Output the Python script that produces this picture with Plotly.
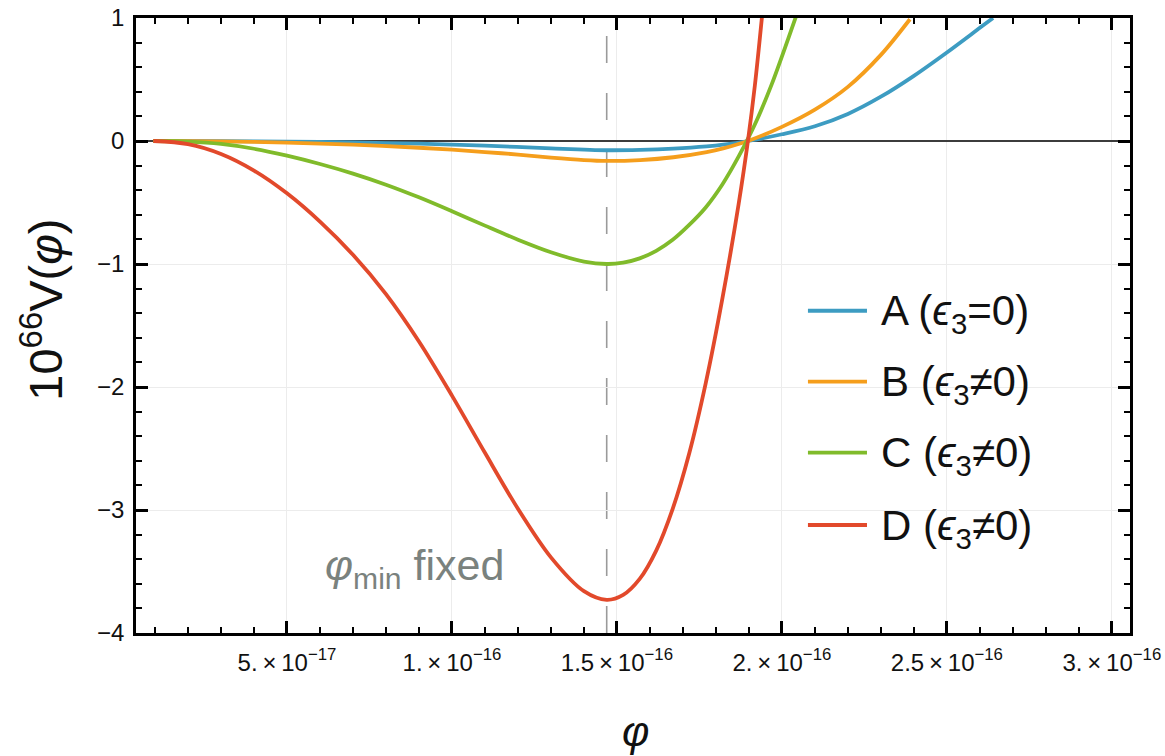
import plotly.graph_objects as go

# field values in units of 1e-16, potential values scaled by 1e66
PHI_UNIT = 1e-16

phi_A = [0.095, 0.3, 0.5, 0.7, 0.9, 1.1, 1.3, 1.469, 1.57, 1.671, 1.772, 1.822, 1.897,
         2.0, 2.1, 2.2, 2.3, 2.4, 2.5, 2.6, 2.64]
V_A = [0, -0.001, -0.005, -0.012, -0.022, -0.038, -0.06, -0.075, -0.072, -0.062, -0.044,
       -0.03, 0, 0.055, 0.12, 0.22, 0.36, 0.53, 0.72, 0.92, 1.0]

phi_B = [0.095, 0.3, 0.5, 0.7, 0.9, 1.0, 1.1, 1.2, 1.3, 1.4, 1.469, 1.57, 1.671, 1.772,
         1.822, 1.897, 2.0, 2.1, 2.2, 2.3, 2.388]
V_B = [0, -0.003, -0.013, -0.03, -0.055, -0.07, -0.09, -0.11, -0.135, -0.155, -0.162,
       -0.155, -0.132, -0.09, -0.06, 0, 0.115, 0.255, 0.44, 0.70, 0.99]

phi_C = [0.095, 0.2, 0.3, 0.4, 0.5, 0.6, 0.7, 0.8, 0.9, 1.0, 1.1, 1.2, 1.3, 1.4, 1.469,
         1.519, 1.569, 1.619, 1.669, 1.719, 1.769, 1.819, 1.869, 1.919, 1.969, 2.019, 2.045]
V_C = [0, -0.005, -0.024, -0.063, -0.119, -0.187, -0.265, -0.355, -0.458, -0.571, -0.688,
       -0.802, -0.904, -0.98, -1.0, -0.989, -0.954, -0.893, -0.803, -0.682, -0.54, -0.355,
       -0.125, 0.14, 0.46, 0.83, 1.03]

phi_D = [0.095, 0.2, 0.3, 0.4, 0.5, 0.6, 0.7, 0.8, 0.9, 1.0, 1.1, 1.2, 1.3, 1.4, 1.469,
         1.519, 1.569, 1.619, 1.669, 1.719, 1.769, 1.819, 1.869, 1.897, 1.918, 1.94]
V_D = [0, -0.025, -0.105, -0.24, -0.425, -0.655, -0.925, -1.245, -1.63, -2.07, -2.535,
       -2.99, -3.385, -3.66, -3.73, -3.69, -3.56, -3.33, -2.99, -2.54, -1.97, -1.29,
       -0.51, 0, 0.45, 1.02]

phi_min = 1.469

series = [
    ("A (<i>ϵ</i><sub>3</sub>=0)", phi_A, V_A, "#3d9cc2"),
    ("B (<i>ϵ</i><sub>3</sub>≠0)", phi_B, V_B, "#f59e1c"),
    ("C (<i>ϵ</i><sub>3</sub>≠0)", phi_C, V_C, "#80bb2b"),
    ("D (<i>ϵ</i><sub>3</sub>≠0)", phi_D, V_D, "#e2492b"),
]

x_tickvals = [0.5, 1.0, 1.5, 2.0, 2.5, 3.0]
x_ticktext = ["5.\u2009×\u200910<sup>−17</sup>", "1.\u2009×\u200910<sup>−16</sup>",
              "1.5\u2009×\u200910<sup>−16</sup>", "2.\u2009×\u200910<sup>−16</sup>",
              "2.5\u2009×\u200910<sup>−16</sup>", "3.\u2009×\u200910<sup>−16</sup>"]
y_tickvals = [-4, -3, -2, -1, 0, 1]

FONT = "Liberation Sans, Arial, Helvetica, sans-serif"

fig = go.Figure()

for name, xs, ys, color in series:
    fig.add_trace(go.Scatter(
        x=[v * PHI_UNIT for v in xs], y=ys, mode="lines", name=name,
        line=dict(color=color, width=3.8, shape="spline", smoothing=0.9),
        showlegend=False,
    ))

# vertical marker at the fixed minimum
fig.add_shape(type="line", xref="x", yref="paper",
              x0=phi_min * PHI_UNIT, x1=phi_min * PHI_UNIT, y0=0, y1=1,
              line=dict(color="#9a9a9a", width=1.6, dash="27px,30px"), layer="below")

fig.add_annotation(xref="paper", yref="paper", x=0.188, y=0.105,
                   xanchor="left", yanchor="middle", showarrow=False,
                   text="<i>φ</i><sub>min</sub> fixed",
                   font=dict(family=FONT, size=43, color="#7a827e"))

# legend drawn as line samples with labels
legend_y = [0.524, 0.4086, 0.2932, 0.1756]
for (name, _, _, color), ly in zip(series, legend_y):
    fig.add_shape(type="line", xref="paper", yref="paper",
                  x0=0.676, x1=0.7354, y0=ly, y1=ly,
                  line=dict(color=color, width=3.8))
    fig.add_annotation(xref="paper", yref="paper", x=0.7475, y=ly,
                       xanchor="left", yanchor="middle", showarrow=False,
                       text=name, yshift=-3,
                       font=dict(family=FONT, size=42, color="#111111"))

# axis titles
fig.add_annotation(xref="paper", yref="paper", x=-0.094, y=0.525,
                   xanchor="center", yanchor="middle", showarrow=False,
                   textangle=-90, text="10<sup>66</sup>V(<i>φ</i>)",
                   font=dict(family=FONT, size=47, color="#111111"))
fig.add_annotation(xref="paper", yref="paper", x=0.503, y=-0.16,
                   xanchor="center", yanchor="middle", showarrow=False,
                   text="<i>φ</i>",
                   font=dict(family=FONT, size=42, color="#111111"))

axis_common = dict(
    showline=True, linecolor="black", linewidth=2.5, mirror="allticks",
    ticks="inside", ticklen=12, tickwidth=2.5, tickcolor="black",
    showgrid=True, gridcolor="#ececec", gridwidth=1, automargin=False,
)

fig.update_xaxes(
    range=[0.0424 * PHI_UNIT, 3.055 * PHI_UNIT],
    tickvals=[v * PHI_UNIT for v in x_tickvals], ticktext=x_ticktext,
    tickfont=dict(family=FONT, size=24, color="#111111"),
    ticklabelstandoff=6,
    zeroline=False,
    minor=dict(ticks="inside", ticklen=6, tickwidth=2, tickcolor="black",
               tick0=0, dtick=0.1 * PHI_UNIT, showgrid=False),
    **axis_common,
)
fig.update_yaxes(
    range=[-4, 1],
    tickvals=y_tickvals,
    tickfont=dict(family=FONT, size=24, color="#111111"),
    ticklabelstandoff=4,
    zeroline=True, zerolinecolor="#3c3c3c", zerolinewidth=1.6,
    minor=dict(ticks="inside", ticklen=6, tickwidth=2, tickcolor="black",
               tick0=0, dtick=0.2, showgrid=False),
    **axis_common,
)

fig.update_layout(
    width=1165, height=756,
    margin=dict(l=136, r=35, t=18, b=123),
    paper_bgcolor="white", plot_bgcolor="white",
    font=dict(family=FONT),
)

fig.write_html("out.html")
